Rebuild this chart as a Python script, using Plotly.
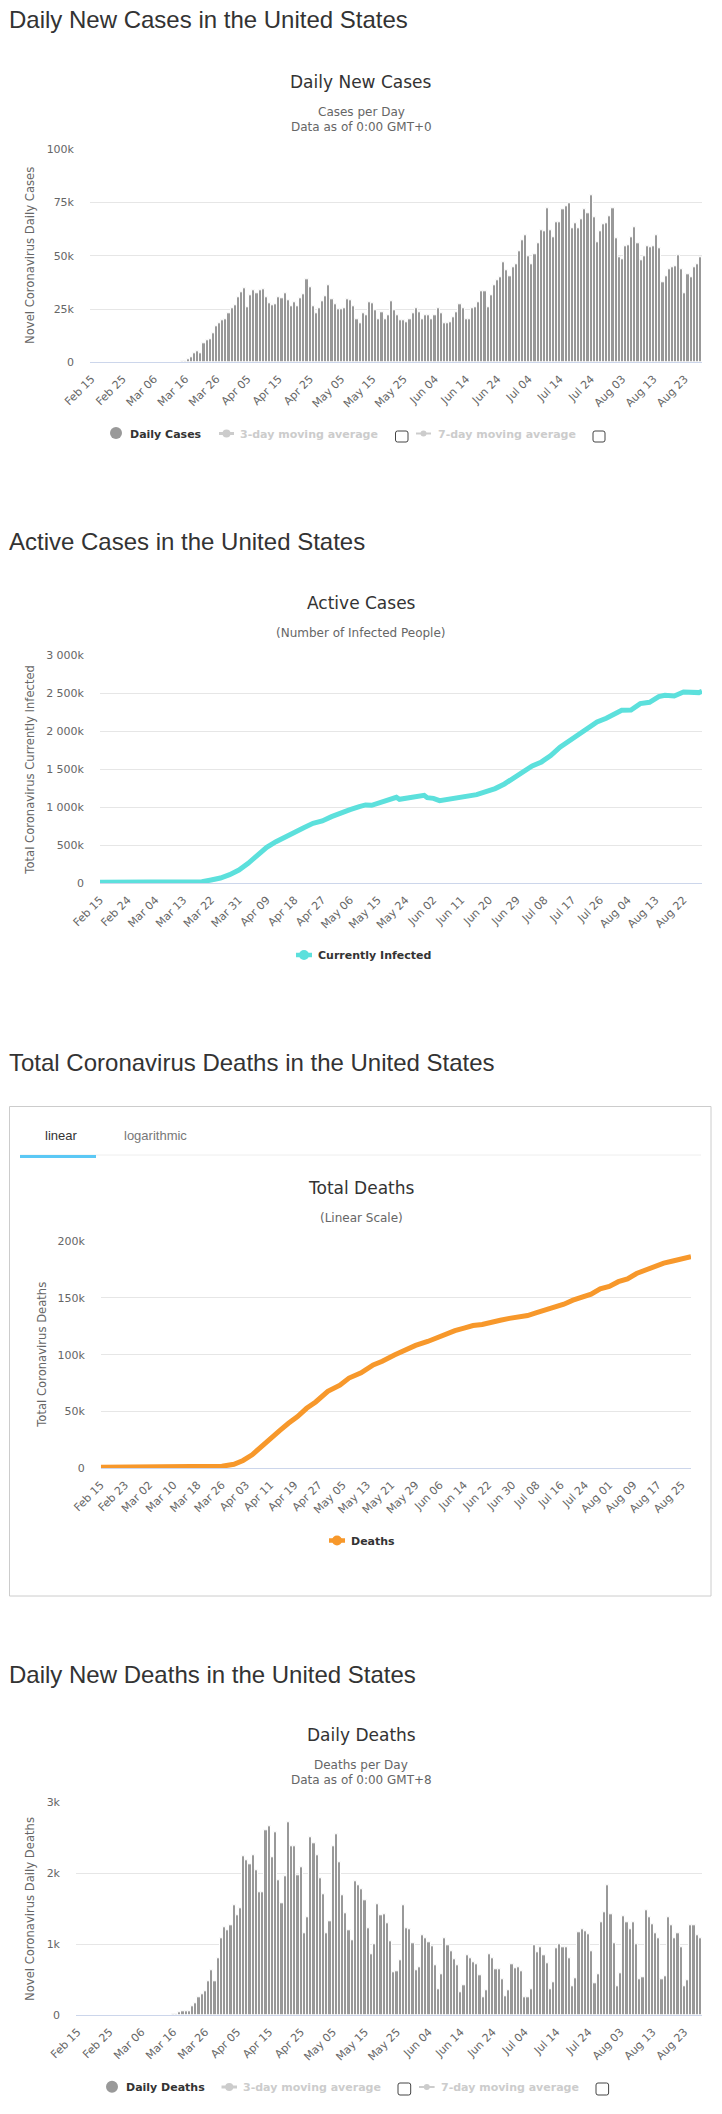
import pandas as pd
import plotly.graph_objects as go

W, H = 722, 2114
categories = list(pd.date_range("2020-02-15", periods=196).strftime("%b %d"))

# Daily new cases, thousands
daily_cases = [0]*29 + [
 0.5,0.5,1.6,2.5,4.4,5.3,4.4,9.1,10.1,11,13.4,17.1,18.5,19.5,20,22.8,25.2,26.6,30.3,32.7,34.6,25.6,31.3,33.6,32.2,33.6,34.1,
 30.3,27.5,26.6,27,30.3,29.9,32.2,28.9,26.1,28,26.1,29.9,31.8,38.8,35.1,26.1,22.8,25.2,28.5,30.8,36,29.4,27,24.7,24.7,25.2,
 29.4,28.9,26.1,20.4,18.5,22.8,21.9,28,27.5,24.2,20,23.3,20.4,22.3,28.5,24.2,21.9,19.5,19.5,19,20.4,22.8,25.2,23.7,20.4,22.3,
 21.9,20.4,22.3,25.2,22.8,18.5,18.5,
 19,20.9,23.3,27,25.2,20,20.4,25.2,25.6,28,33.2,33.2,25.6,31.3,36,38.4,39.8,46.8,43.1,40.2,44.5,45.9,52,57.2,59.6,49.7,45.9,
 50.6,55.8,61.9,61.5,72.3,61.9,58.6,65.7,65.7,71.8,73.3,74.7,62.9,65.2,62.9,67.1,71.8,70,78.4,68.1,56.3,61.5,64.8,65.2,68.5,
 72.3,58.2,49.2,48.3,54.4,54.9,58.6,63.4,55.8,47.8,49.7,54.4,53.9,54.4,59.6,53.4,37.4,40.2,43.5,44.5,45,50.1,43.5,32.2,41.2,
 39.8,44.5,45.9,49.2]

# Daily new deaths
daily_deaths = [0]*30 + [
 14,14,47,61,61,61,131,174,258,300,343,484,639,484,808,1089,1244,1202,1272,1554,1413,1512,2244,2188,2132,2258,2047,1737,1737,
 2610,2667,2230,2582,1906,1582,1962,2723,2385,2385,1977,2089,1160,1385,2512,2427,2258,1934,1709,1160,1329,2385,2554,2160,1695,
 1441,1202,1061,1892,1836,1779,1624,1230,864,1005,1568,1413,1427,1300,1047,610,624,779,1554,1230,1216,1019,639,681,1131,1089,
 1033,977,709,371,582,1089,991,
 906,793,709,329,427,850,808,751,723,568,258,357,864,808,653,653,512,272,357,723,667,681,624,258,258,371,991,892,962,850,737,
 371,470,948,1005,962,962,808,413,526,1174,1216,1188,1146,906,455,582,1315,1455,1836,1427,1019,413,596,1399,1315,1216,1315,
 1005,512,540,1484,1385,1286,1160,1089,512,554,1385,1272,1089,1160,962,413,498,1272,1272,1131,1089]

# Active cases (thousands) at the days
active_days = [0,10,20,30,33,36,39,42,45,48,51,54,57,60,63,66,69,72,75,78,81,84,86,88,91,94,96,97,100,103,105,106,108,110,113,
 116,119,122,125,128,131,134,137,140,143,146,149,152,155,158,161,164,167,169,172,175,178,181,183,186,189,192,194,195]
active_values = [15,15,15,15,20,44,70,114,175,263,368,474,548,614,671,732,789,820,877,930,969,1009,1031,1026,1066,1101,1132,1105,
 1123,1136,1158,1127,1118,1088,1110,1123,1145,1167,1206,1246,1307,1391,1456,1544,1597,1680,1790,1873,1956,2030,2122,2171,2241,
 2276,2280,2364,2381,2456,2474,2465,2517,2504,2509,2526]

# Total deaths (thousands) at the days
death_days = [0,10,20,30,36,40,44,47,50,53,56,59,62,65,68,71,75,79,82,86,90,93,97,100,104,108,111,114,117,120,123,126,129,
 132,135,138,141,144,147,150,153,156,159,162,165,168,171,174,177,180,183,186,189,192,195]
death_values = [0.9,0.9,0.9,0.9,1.3,1.9,3.5,6.9,11.9,19.2,26,33,39.6,45.5,52.8,58.4,67.8,73.2,79.4,84,91,94.2,99.7,103.4,108.1,
 111.6,115,118.7,121.2,123.4,125.6,126.5,128.7,130.3,131.9,133.1,134.4,136.9,139.1,142.2,144.4,147.9,151,153.2,157.9,
 160.1,164.2,166.7,171.4,174.3,178,180.6,182.4,184,186.2]

BAR = "#999999"; CYAN = "#5CE0DC"; ORANGE = "#F7982B"
GRID = "#E6E6E6"; AXIS = "#CCD6EB"; LABEL = "#666666"; DARK = "#333333"
FONT = "DejaVu Sans"; HEAD = "Liberation Sans"

fx = lambda x: x / W
fy = lambda y: 1 - y / H

fig = go.Figure()
annos, shapes = [], []

def text(s, x, y, size=12, color=LABEL, anchor="left", family=FONT, angle=0):
    annos.append(dict(text=s, x=fx(x), y=fy(y), xref="paper", yref="paper", xanchor=anchor, yanchor="middle",
                      showarrow=False, textangle=angle, font=dict(size=size, color=color, family=family),
                      borderpad=0, borderwidth=0))

def axes(n, left, right, top, bottom, yr, ytv, ytt, step, xr):
    sfx = "" if n == 1 else str(n)
    fig.layout["xaxis" + sfx] = dict(domain=[fx(left), fx(right)], anchor="y" + sfx, type="category", automargin=False,
        categoryorder="array", categoryarray=categories, range=xr, tickmode="array",
        tickvals=categories[::step], ticktext=categories[::step], tickangle=-45, showgrid=False,
        showline=True, linecolor=AXIS, linewidth=1, ticks="", ticklabelstandoff=5,
        tickfont=dict(size=11, color=LABEL, family=FONT))
    fig.layout["yaxis" + sfx] = dict(domain=[fy(bottom), fy(top)], anchor="x" + sfx, range=yr, tickmode="array", automargin=False,
        tickvals=ytv, ticktext=ytt, showgrid=True, gridcolor=GRID, gridwidth=1, zeroline=False, showline=False,
        ticks="", ticklabelstandoff=15, tickfont=dict(size=11, color=LABEL, family=FONT))

def bars(n, y, name):
    sfx = "" if n == 1 else str(n)
    fig.add_trace(go.Bar(x=categories, y=y, name=name, marker=dict(color=BAR, line=dict(color="white", width=1)),
                         xaxis="x" + sfx, yaxis="y" + sfx, showlegend=False))

def line(n, days, vals, color, name):
    sfx = str(n)
    fig.add_trace(go.Scatter(x=[categories[d] for d in days], y=vals, mode="lines", name=name,
                             line=dict(color=color, width=5), xaxis="x" + sfx, yaxis="y" + sfx, showlegend=False))

def dot(cx, cy, r, color):
    shapes.append(dict(type="circle", xref="paper", yref="paper", x0=fx(cx - r), x1=fx(cx + r), y0=fy(cy - r), y1=fy(cy + r),
                       fillcolor=color, line=dict(width=0)))

def stroke(x0, x1, y, color, w):
    shapes.append(dict(type="line", xref="paper", yref="paper", x0=fx(x0), x1=fx(x1), y0=fy(y), y1=fy(y),
                       line=dict(color=color, width=w)))

def box(x0, x1, y0, y1, color="#CCCCCC", w=1):
    shapes.append(dict(type="rect", xref="paper", yref="paper", x0=fx(x0), x1=fx(x1), y0=fy(y0), y1=fy(y1),
                       line=dict(color=color, width=w), fillcolor="rgba(0,0,0,0)"))

def checkbox(x0, x1, y0, y1, r=2):
    pts = [("M", x0 + r, y0), ("L", x1 - r, y0), ("Q", x1, y0, x1, y0 + r), ("L", x1, y1 - r), ("Q", x1, y1, x1 - r, y1),
           ("L", x0 + r, y1), ("Q", x0, y1, x0, y1 - r), ("L", x0, y0 + r), ("Q", x0, y0, x0 + r, y0)]
    parts = []
    for p in pts:
        coords = p[1:]
        pairs = [f"{fx(coords[i])},{fy(coords[i + 1])}" for i in range(0, len(coords), 2)]
        parts.append(p[0] + " ".join(pairs))
    shapes.append(dict(type="path", xref="paper", yref="paper", path=" ".join(parts) + " Z",
                       line=dict(color="#444444", width=1), fillcolor="rgba(0,0,0,0)"))

def legend_mark(x0, x1, y, color, w=3, r=4):
    stroke(x0, x1, y, color, w)
    dot((x0 + x1) / 2, y, r, color)

# Chart 1
axes(1, 90, 702, 149.3, 362.3, [0, 100], [0, 25, 50, 75, 100], ["0", "25k", "50k", "75k", "100k"], 10, [-0.5, 195.5])
bars(1, daily_cases, "Daily Cases")
text("Daily New Cases in the United States", 9, 20, 24, DARK, family=HEAD)
text("Daily New Cases", 361, 81.7, 17, DARK, "center")
text("Cases per Day", 361, 112, 12, LABEL, "center")
text("Data as of 0:00 GMT+0", 361, 126.7, 12, LABEL, "center")
text("Novel Coronavirus Daily Cases", 30, 256, 11.6, LABEL, "center", angle=-90)
dot(116, 433, 6, BAR)
text("<b>Daily Cases</b>", 129.5, 434.5, 11, DARK)
legend_mark(219, 234, 433.5, "#CCCCCC")
text("<b>3-day moving average</b>", 240, 434.5, 11, "#CCCCCC")
checkbox(395.5, 408, 431, 442)
legend_mark(416, 431, 433.5, "#CCCCCC", 2, 3)
text("<b>7-day moving average</b>", 437.5, 434.5, 11, "#CCCCCC")
checkbox(593, 605, 431, 442)

# Chart 2
axes(2, 100, 702, 655.3, 883.3, [0, 3000], [0, 500, 1000, 1500, 2000, 2500, 3000],
     ["0", "500k", "1 000k", "1 500k", "2 000k", "2 500k", "3 000k"], 9, [0, 195])
line(2, active_days, active_values, CYAN, "Currently Infected")
text("Active Cases in the United States", 9, 541.7, 24, DARK, family=HEAD)
text("Active Cases", 361, 602.7, 17, DARK, "center")
text("(Number of Infected People)", 361, 632.7, 12, LABEL, "center")
text("Total Coronavirus Currently Infected", 30, 769.7, 11.6, LABEL, "center", angle=-90)
legend_mark(296, 312, 955, CYAN, 4.5, 5)
text("<b>Currently Infected</b>", 317.7, 955.5, 11, DARK)

# Chart 3
box(9.5, 711, 1106.5, 1596, "#CCCCCC", 1)
text("Total Coronavirus Deaths in the United States", 9, 1062.5, 24, DARK, family=HEAD)
stroke(20, 701, 1155, "#EEEEEE", 1)
stroke(20, 96, 1156.5, "#5BC8F5", 3)
text("linear", 60.5, 1135.5, 13, DARK, "center", family=HEAD)
text("logarithmic", 155, 1135.5, 13, "#777777", "center", family=HEAD)
axes(3, 100.8, 691, 1241, 1468.3, [0, 200], [0, 50, 100, 150, 200], ["0", "50k", "100k", "150k", "200k"], 8, [0, 195])
line(3, death_days, death_values, ORANGE, "Deaths")
text("Total Deaths", 361, 1187.7, 17, DARK, "center")
text("(Linear Scale)", 361, 1218, 12, LABEL, "center")
text("Total Coronavirus Deaths", 42, 1354.8, 11.6, LABEL, "center", angle=-90)
legend_mark(329, 345, 1540.5, ORANGE, 4.5, 5)
text("<b>Deaths</b>", 351, 1541, 11, DARK)

# Chart 4
axes(4, 76, 702, 1802.3, 2015.3, [0, 3000], [0, 1000, 2000, 3000], ["0", "1k", "2k", "3k"], 10, [-0.5, 195.5])
bars(4, daily_deaths, "Daily Deaths")
text("Daily New Deaths in the United States", 9, 1674, 24, DARK, family=HEAD)
text("Daily Deaths", 361, 1734.7, 17, DARK, "center")
text("Deaths per Day", 361, 1765, 12, LABEL, "center")
text("Data as of 0:00 GMT+8", 361, 1779.7, 12, LABEL, "center")
text("Novel Coronavirus Daily Deaths", 30, 1909, 11.6, LABEL, "center", angle=-90)
dot(112, 2086.7, 6, BAR)
text("<b>Daily Deaths</b>", 125.7, 2087.5, 11, DARK)
legend_mark(221.5, 237, 2087, "#CCCCCC")
text("<b>3-day moving average</b>", 243, 2087.5, 11, "#CCCCCC")
checkbox(398, 410.7, 2083, 2095)
legend_mark(419, 434.6, 2087, "#CCCCCC", 2, 3)
text("<b>7-day moving average</b>", 440.6, 2087.5, 11, "#CCCCCC")
checkbox(596, 608.6, 2083, 2095)

fig.update_layout(width=W, height=H, margin=dict(l=0, r=0, t=0, b=0), paper_bgcolor="white", plot_bgcolor="white",
                  bargap=0, annotations=annos, shapes=shapes, showlegend=False)
fig.write_html("out.html", post_script="document.body.style.margin='0';", config={"displayModeBar": False})
